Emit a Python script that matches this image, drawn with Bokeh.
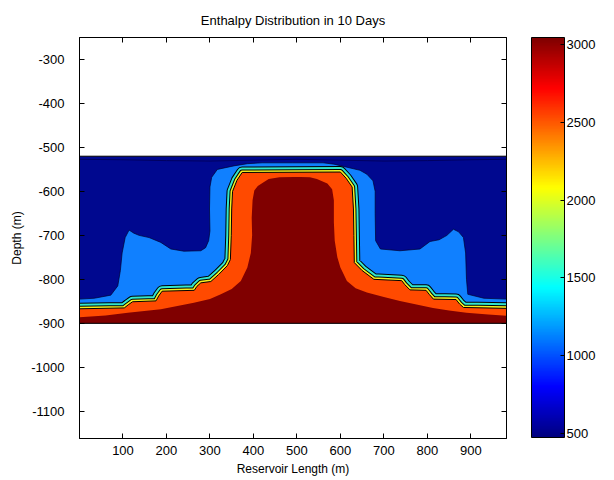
import numpy as np
from bokeh.plotting import figure
from bokeh.models import (Range1d, LinearAxis, FixedTicker, ColorBar, LinearColorMapper,
                          NumeralTickFormatter)
from bokeh.embed import file_html
from bokeh.resources import INLINE

# ---------------- data ----------------
title_text = "Enthalpy Distribution in 10 Days"
x_label = "Reservoir Length (m)"
y_label = "Depth (m)"
x_ticks = [100, 200, 300, 400, 500, 600, 700, 800, 900]
y_ticks = [-1100, -1000, -900, -800, -700, -600, -500, -400, -300]
cb_ticks = [500, 1000, 1500, 2000, 2500, 3000]
enthalpy_limits = [474, 3045]

# reservoir extent (m)
domain_x = [0, 982]
domain_depth = [-900, -520]

# faint contour near the top of the low-enthalpy zone
nv_x = [0, 100, 200, 300, 400, 500, 600, 700, 800, 900, 982]
nv_y = [-527, -528, -530, -531, -529, -527, -529, -531, -530, -528, -527]

# boundary of the ~1000 kJ/kg zone (light blue)
lb_x = [0, 34, 72, 88, 94, 98, 105, 114, 125, 137, 160, 187, 210, 240, 279, 290,
        297, 300, 299, 300, 304, 317, 355, 386, 420, 490, 560, 585, 615, 645,
        661, 675, 680, 680, 681, 692, 737, 783, 806, 827, 845, 860, 872, 883,
        888, 890, 893, 930, 982]
lb_y = [-845, -843, -836, -815, -780, -740, -705, -688, -695, -700, -705, -716, -731,
        -736, -735, -728, -712, -690, -640, -590, -568, -550, -542, -537, -535, -535,
        -535, -538, -545, -552, -561, -576, -600, -650, -712, -731, -735, -731, -714,
        -710, -700, -686, -692, -705, -740, -800, -834, -843, -845]

# steam front (top of the ~2500 kJ/kg zone, orange)
front_x = [0, 103, 112, 122, 176, 182, 190, 264, 270, 279, 302, 320, 340, 347, 349,
           350, 352, 362, 374, 600, 613, 627, 630, 631, 632, 650, 677, 741, 748, 760,
           797, 805, 814, 866, 874, 883, 982]
front_y = [-867, -865, -858, -851, -849, -838, -827, -825, -816, -808, -805, -789,
           -769, -755, -700, -640, -600, -575, -557, -556, -570, -590, -640, -700,
           -762, -780, -800, -803, -812, -824, -825, -835, -845, -846, -856, -864, -866]

# boundary of the ~3000 kJ/kg zone (dark red)
dr_x = [0, 60, 111, 187, 263, 300, 325, 350, 371, 386, 394, 397, 396, 398, 402, 410,
        435, 460, 493, 508, 530, 546, 570, 581, 585, 585, 587, 593, 600, 615, 635,
        661, 700, 737, 775, 813, 850, 890, 940, 982]
dr_y = [-886, -882, -876, -868, -853, -845, -834, -822, -804, -773, -740, -700, -660,
        -620, -598, -588, -572, -568, -567, -567, -568, -572, -582, -595, -620, -670,
        -712, -750, -773, -804, -820, -830, -840, -849, -857, -865, -871, -876, -880, -883]

# ---------------- styles ----------------
FONT = "Liberation Sans"
C_NAVY = "#00088f"
C_LBLUE = "#1080ff"
C_CYAN = "#30e6cc"
C_YELLOW = "#f2f020"
C_ORANGE = "#ff4a00"
C_DRED = "#800000"


def jet(t):
    r = min(max(1.5 - abs(4 * t - 3), 0), 1)
    g = min(max(1.5 - abs(4 * t - 2), 0), 1)
    b = min(max(1.5 - abs(4 * t - 1), 0), 1)
    return "#%02x%02x%02x" % (int(r * 255), int(g * 255), int(b * 255))


jet_palette = [jet(t) for t in np.linspace(0, 1, 256)]

p = figure(width=614, height=480, output_backend="svg", toolbar_location=None,
           x_range=Range1d(0, 982), y_range=Range1d(-1162, -250),
           min_border_left=79, min_border_right=108, min_border_top=37,
           min_border_bottom=42)
p.grid.visible = False
p.outline_line_color = "black"
p.background_fill_color = "white"
p.border_fill_color = "white"

p.title.text = title_text
p.title.align = "center"
p.title.text_font = FONT
p.title.text_font_size = "13px"
p.title.text_font_style = "normal"
p.title.text_color = "black"
p.title.standoff = 19


def style_axis(ax, ticks, labels=True):
    ax.ticker = FixedTicker(ticks=ticks)
    ax.minor_tick_line_color = None
    ax.major_tick_in = 5
    ax.major_tick_out = 0
    ax.axis_line_color = "black"
    ax.major_tick_line_color = "black"
    ax.major_label_text_font = FONT
    ax.formatter = NumeralTickFormatter(format="0")
    if labels:
        ax.major_label_text_font_size = "13px"
        ax.major_label_text_color = "black"
    else:
        ax.major_label_text_font_size = "0px"
        ax.major_label_text_color = None


style_axis(p.xaxis[0], x_ticks)
style_axis(p.yaxis[0], y_ticks)
p.xaxis[0].major_label_standoff = 7
p.yaxis[0].major_label_standoff = 15
for ax in (p.xaxis[0], p.yaxis[0]):
    ax.axis_label_text_font = FONT
    ax.axis_label_text_font_size = "12px"
    ax.axis_label_text_font_style = "normal"
    ax.axis_label_text_color = "black"
p.xaxis[0].axis_label = x_label
p.xaxis[0].axis_label_standoff = 4
p.yaxis[0].axis_label = y_label
p.yaxis[0].axis_label_standoff = 4

top_ax = LinearAxis()
style_axis(top_ax, x_ticks, labels=False)
p.add_layout(top_ax, "above")

right_ax = LinearAxis()
style_axis(right_ax, y_ticks, labels=False)
p.add_layout(right_ax, "right")

# invisible spacer between the plot box and the colour bar
spacer_ax = LinearAxis()
style_axis(spacer_ax, y_ticks, labels=False)
spacer_ax.major_tick_in = 0
spacer_ax.major_tick_out = 25
spacer_ax.major_tick_line_color = None
spacer_ax.axis_line_color = None
p.add_layout(spacer_ax, "right")

# ---------------- contour bands ----------------
x0, x1 = domain_x
d_bot, d_top = domain_depth
p.quad(left=[x0], right=[x1], bottom=[d_bot], top=[d_top], fill_color=C_NAVY,
       line_color=None)
p.line(nv_x, nv_y, line_color="#000060", line_width=1)

p.patch(lb_x + [x1, x0], lb_y + [d_bot, d_bot], fill_color=C_LBLUE, line_color=None)
p.line(lb_x, lb_y, line_color="#000030", line_width=1, line_alpha=0.7)

# thin bands along the steep front (cyan and yellow between black contour lines)
for w, c in [(12, "black"), (10, C_CYAN), (6, "black"), (4, C_YELLOW)]:
    p.line(front_x, front_y, line_color=c, line_width=w, line_join="round")

p.patch(front_x + [x1, x0], front_y + [d_bot, d_bot], fill_color=C_ORANGE, line_color=None)
p.line(front_x, front_y, line_color="black", line_width=1)

p.patch(dr_x + [x1, x0], dr_y + [d_bot, d_bot], fill_color=C_DRED, line_color=None)

p.quad(left=[x0], right=[x1], bottom=[d_bot], top=[d_top], fill_alpha=0,
       line_color="black", line_width=1)

# ---------------- colour bar ----------------
mapper = LinearColorMapper(palette=jet_palette, low=enthalpy_limits[0],
                           high=enthalpy_limits[1])
cbar = ColorBar(color_mapper=mapper, ticker=FixedTicker(ticks=cb_ticks),
                formatter=NumeralTickFormatter(format="0"),
                width=33, height=400, padding=0, margin=0, label_standoff=2,
                major_label_text_font=FONT, major_label_text_font_size="13px",
                major_label_text_color="black", major_tick_in=4, major_tick_out=0,
                major_tick_line_color="black", minor_tick_line_color=None,
                bar_line_color="black", border_line_color=None,
                background_fill_alpha=0)
p.add_layout(cbar, "right")

open("out.html", "w").write(file_html(p, INLINE))
